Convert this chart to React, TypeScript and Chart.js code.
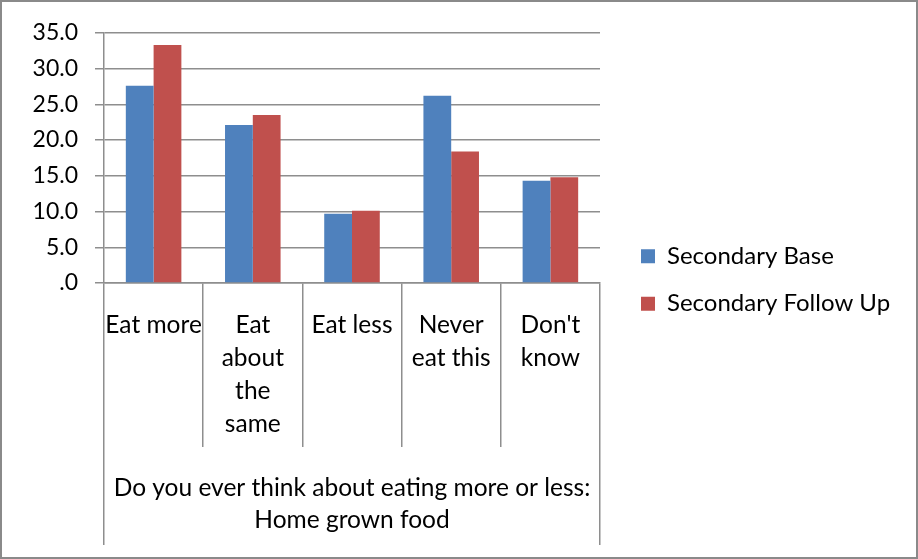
import React, { useEffect, useRef } from "react";
import { Chart, registerables } from "chart.js";

Chart.register(...registerables);

const categories: string[][] = [
  ["Eat more"],
  ["Eat", "about", "the", "same"],
  ["Eat less"],
  ["Never", "eat this"],
  ["Don't", "know"],
];
const groupLabel: string[] = [
  "Do you ever think about eating more or less:",
  "Home grown food",
];
const secondaryBase: number[] = [27.6, 22.1, 9.7, 26.2, 14.3];
const secondaryFollowUp: number[] = [33.3, 23.5, 10.1, 18.4, 14.8];
const seriesNames: string[] = ["Secondary Base", "Secondary Follow Up"];
const yMin = 0;
const yMax = 35;
const yStep = 5;

const FONT = "Lato, 'Open Sans', sans-serif";
const GRID = "#8e8e8e";
const LEGEND_SIZE = 24;
const LEGEND_PAD = 23.5;
const LEGEND_BOX = 14;

export default function App() {
  const canvasRef = useRef<HTMLCanvasElement | null>(null);

  useEffect(() => {
    const canvas = canvasRef.current;
    if (!canvas) return;

    // measure legend text to place legend box where the reference has it
    const mctx = document.createElement("canvas").getContext("2d")!;
    mctx.font = `${LEGEND_SIZE}px ${FONT}`;
    const textW = Math.max(...seriesNames.map((s) => mctx.measureText(s).width));
    const legendW = LEGEND_PAD + LEGEND_BOX + LEGEND_SIZE / 2 + textW + 10;
    const canvasW = 914;
    const legendLeft = 639 - LEGEND_PAD;
    const padRight = Math.max(0, canvasW - legendLeft - legendW);
    const padTop = 27;
    const firstItemTop = 242 - (LEGEND_SIZE - 24.5) / 2;
    const legendTitleH = firstItemTop - padTop - LEGEND_PAD;

    const chart = new Chart(canvas, {
      type: "bar",
      data: {
        labels: categories,
        datasets: [
          {
            label: seriesNames[0],
            data: secondaryBase,
            backgroundColor: "#4F81BD",
            borderWidth: 0,
            categoryPercentage: 0.56,
            barPercentage: 1,
          },
          {
            label: seriesNames[1],
            data: secondaryFollowUp,
            backgroundColor: "#C0504D",
            borderWidth: 0,
            categoryPercentage: 0.56,
            barPercentage: 1,
          },
        ],
      },
      options: {
        animation: false,
        responsive: true,
        maintainAspectRatio: false,
        layout: { padding: { top: padTop, left: 0, right: padRight, bottom: 0 } },
        plugins: {
          tooltip: { enabled: false },
          title: { display: false },
          legend: {
            position: "right",
            align: "start",
            maxWidth: 500,
            title: {
              display: true,
              text: "",
              font: { family: FONT, size: 10, lineHeight: 1 },
              padding: { top: legendTitleH - 10, bottom: 0 },
            },
            labels: {
              color: "#000",
              font: { family: FONT, size: LEGEND_SIZE },
              boxWidth: LEGEND_BOX,
              boxHeight: LEGEND_BOX,
              padding: LEGEND_PAD,
            },
          },
        },
        scales: {
          x: {
            type: "category",
            position: "bottom",
            offset: true,
            grid: {
              offset: true,
              drawOnChartArea: false,
              drawTicks: true,
              tickLength: 164,
              color: GRID,
              lineWidth: 1.5,
            },
            border: { display: true, color: GRID, width: 1.5 },
            ticks: {
              color: "#000",
              font: { family: FONT, size: 24.5, lineHeight: 33 / 24.5 },
              padding: -138.5,
              maxRotation: 0,
              minRotation: 0,
              autoSkip: false,
            },
            afterFit: (s: any) => {
              s.height = 164;
            },
          },
          x2: {
            type: "category",
            position: "bottom",
            labels: [groupLabel],
            offset: true,
            grid: {
              offset: true,
              drawOnChartArea: false,
              drawTicks: true,
              tickLength: 98,
              color: GRID,
              lineWidth: 1.5,
            },
            border: { display: false },
            ticks: {
              color: "#000",
              font: { family: FONT, size: 24.5, lineHeight: 32 / 24.5 },
              padding: -73,
              maxRotation: 0,
              minRotation: 0,
              autoSkip: false,
            },
            afterFit: (s: any) => {
              s.height = 110;
            },
          },
          y: {
            type: "linear",
            position: "left",
            min: yMin,
            max: yMax,
            grid: {
              color: GRID,
              lineWidth: 1.5,
              drawTicks: true,
              tickLength: 9,
            },
            border: { display: true, color: GRID, width: 1.5 },
            ticks: {
              stepSize: yStep,
              color: "#000",
              font: { family: FONT, size: 23 },
              padding: 17,
              callback: (v: any) => {
                const n = Number(v);
                return n === 0 ? ".0" : n.toFixed(1);
              },
            },
            afterFit: (s: any) => {
              s.width = 102;
            },
          },
          y2: {
            type: "linear",
            position: "right",
            display: true,
            grid: { display: false, drawTicks: false },
            border: { display: false },
            ticks: { display: false },
            afterFit: (s: any) => {
              s.width = legendLeft - 598;
            },
          },
        },
      },
    });
    return () => chart.destroy();
  }, []);

  return (
    <div
      style={{
        position: "fixed",
        left: 0,
        top: 0,
        width: 918,
        height: 559,
        boxSizing: "border-box",
        border: "2px solid #8a8a8a",
        background: "#fff",
      }}
    >
      <div style={{ position: "relative", width: "100%", height: "100%" }}>
        <canvas ref={canvasRef} />
      </div>
    </div>
  );
}
